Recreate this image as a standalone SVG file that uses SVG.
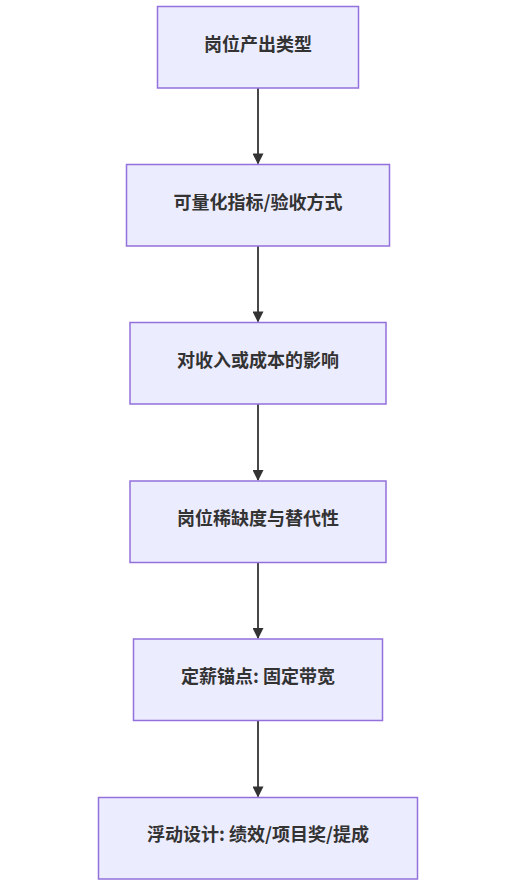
<svg xmlns="http://www.w3.org/2000/svg" width="518" height="885" viewBox="0 0 518 885">
<style>
.node rect{fill:#ECECFF;stroke:#9370DB;stroke-width:1.5px}
.node text{font-family:"Noto Sans CJK SC","Liberation Sans",sans-serif;font-size:18px;font-weight:bold;fill:#333;text-anchor:middle;dominant-baseline:central}
.edge{stroke:#333;stroke-width:1.8px;fill:none}
</style>
<defs>
<marker id="arr" viewBox="0 0 10 10" refX="9" refY="5" markerWidth="12" markerHeight="11" markerUnits="userSpaceOnUse" orient="auto">
<path d="M0,0 L10,5 L0,10 z" fill="#333"/>
</marker>
</defs>
<rect width="518" height="885" fill="#fff"/>
<g id="edges">
<line class="edge" x1="258" y1="88" x2="258" y2="163.5" marker-end="url(#arr)"/>
<line class="edge" x1="258" y1="246" x2="258" y2="321.5" marker-end="url(#arr)"/>
<line class="edge" x1="258" y1="404" x2="258" y2="480" marker-end="url(#arr)"/>
<line class="edge" x1="258" y1="563" x2="258" y2="638" marker-end="url(#arr)"/>
<line class="edge" x1="258" y1="721" x2="258" y2="796.5" marker-end="url(#arr)"/>
</g>
<g id="n1" class="node"><rect x="157.5" y="6.5" width="201" height="81.5"/><text x="258" y="42.5">岗位产出类型</text></g>
<g id="n2" class="node"><rect x="126.5" y="164.5" width="263" height="81.5"/><text x="258" y="200.5">可量化指标/验收方式</text></g>
<g id="n3" class="node"><rect x="130" y="322.5" width="256" height="81.5"/><text x="258" y="358.5">对收入或成本的影响</text></g>
<g id="n4" class="node"><rect x="130" y="481" width="256" height="81.5"/><text x="258" y="516.5">岗位稀缺度与替代性</text></g>
<g id="n5" class="node"><rect x="133.5" y="639" width="249" height="81.5"/><text x="258" y="674.5">定薪锚点: 固定带宽</text></g>
<g id="n6" class="node"><rect x="98.5" y="797.5" width="319" height="81.5"/><text x="258" y="832.5">浮动设计: 绩效/项目奖/提成</text></g>
</svg>
